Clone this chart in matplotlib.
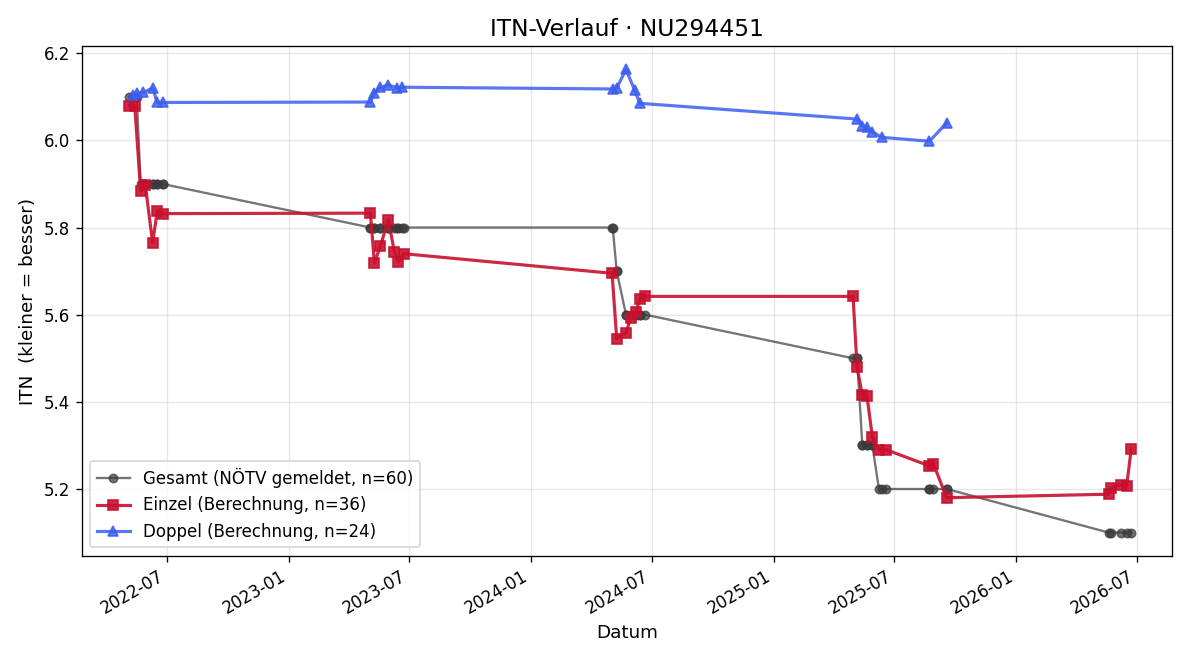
import matplotlib
matplotlib.use("Agg")
import matplotlib.pyplot as plt
import matplotlib.dates as mdates
import pandas as pd

gesamt_dates = [
    "2022-05-06", "2022-05-11", "2022-05-14", "2022-05-17", "2022-05-23", "2022-05-27", "2022-05-30",
    "2022-06-10", "2022-06-10", "2022-06-17", "2022-06-17", "2022-06-25", "2022-06-25",
    "2023-05-04", "2023-05-04", "2023-05-10", "2023-05-10", "2023-05-19", "2023-05-19", "2023-05-31",
    "2023-05-31", "2023-06-09", "2023-06-13", "2023-06-15", "2023-06-21", "2023-06-23",
    "2024-05-02", "2024-05-03", "2024-05-09", "2024-05-09", "2024-05-23", "2024-05-23", "2024-05-30",
    "2024-06-05", "2024-06-07", "2024-06-13", "2024-06-13", "2024-06-21",
    "2025-04-30", "2025-05-06", "2025-05-06", "2025-05-14", "2025-05-14", "2025-05-21", "2025-05-21",
    "2025-05-29", "2025-05-29", "2025-06-08", "2025-06-12", "2025-06-19", "2025-08-23", "2025-08-23",
    "2025-08-29", "2025-09-18", "2025-09-18",
    "2026-05-20", "2026-05-23", "2026-06-08", "2026-06-16", "2026-06-23",
]
gesamt_values = [
    6.1, 6.1, 6.1, 6.1, 5.9, 5.9, 5.9,
    5.9, 5.9, 5.9, 5.9, 5.9, 5.9,
    5.8, 5.8, 5.8, 5.8, 5.8, 5.8, 5.8,
    5.8, 5.8, 5.8, 5.8, 5.8, 5.8,
    5.8, 5.8, 5.7, 5.7, 5.6, 5.6, 5.6,
    5.6, 5.6, 5.6, 5.6, 5.6,
    5.5, 5.5, 5.5, 5.3, 5.3, 5.3, 5.3,
    5.3, 5.3, 5.2, 5.2, 5.2, 5.2, 5.2,
    5.2, 5.2, 5.2,
    5.1, 5.1, 5.1, 5.1, 5.1,
]

einzel_dates = [
    "2022-05-06", "2022-05-14", "2022-05-23", "2022-05-30", "2022-06-10", "2022-06-17", "2022-06-25",
    "2023-05-04", "2023-05-10", "2023-05-19", "2023-05-31", "2023-06-09", "2023-06-15", "2023-06-23",
    "2024-05-02", "2024-05-09", "2024-05-23", "2024-05-30", "2024-06-07", "2024-06-13", "2024-06-21",
    "2025-04-30", "2025-05-06", "2025-05-14", "2025-05-21", "2025-05-29", "2025-06-08", "2025-06-19",
    "2025-08-23", "2025-08-29", "2025-09-18",
    "2026-05-20", "2026-05-23", "2026-06-08", "2026-06-16", "2026-06-23",
]
einzel_values = [
    6.08, 6.08, 5.883, 5.897, 5.765, 5.838, 5.832,
    5.833, 5.719, 5.757, 5.818, 5.745, 5.721, 5.74,
    5.695, 5.545, 5.558, 5.593, 5.607, 5.636, 5.642,
    5.642, 5.48, 5.415, 5.413, 5.32, 5.29, 5.29,
    5.253, 5.258, 5.18,
    5.188, 5.203, 5.21, 5.206, 5.292,
]

doppel_dates = [
    "2022-05-11", "2022-05-17", "2022-05-27", "2022-06-10", "2022-06-17", "2022-06-25",
    "2023-05-04", "2023-05-10", "2023-05-19", "2023-05-31", "2023-06-13", "2023-06-21",
    "2024-05-03", "2024-05-09", "2024-05-23", "2024-06-05", "2024-06-13",
    "2025-05-06", "2025-05-14", "2025-05-21", "2025-05-29", "2025-06-12", "2025-08-23", "2025-09-18",
]
doppel_values = [
    6.105, 6.108, 6.11, 6.12, 6.087, 6.087,
    6.088, 6.109, 6.122, 6.127, 6.121, 6.122,
    6.118, 6.12, 6.163, 6.115, 6.085,
    6.049, 6.034, 6.03, 6.02, 6.007, 5.998, 6.04,
]

fig, ax = plt.subplots(figsize=(10, 5.5), dpi=120)
fig.subplots_adjust(left=0.068, right=0.977, top=0.930, bottom=0.158)

ax.plot(pd.to_datetime(gesamt_dates), gesamt_values, "-o", color="#3a3a3a", alpha=0.7,
        lw=1.4, ms=5, label=f"Gesamt (NÖTV gemeldet, n={len(gesamt_values)})", zorder=2)
ax.plot(pd.to_datetime(einzel_dates), einzel_values, "-s", color="#c8102e", alpha=0.9,
        lw=1.9, ms=6, label=f"Einzel (Berechnung, n={len(einzel_values)})", zorder=3)
ax.plot(pd.to_datetime(doppel_dates), doppel_values, "-^", color="#3d5ef0", alpha=0.85,
        lw=1.9, ms=6, label=f"Doppel (Berechnung, n={len(doppel_values)})", zorder=3)

ax.set_xlim(pd.Timestamp("2022-02-23"), pd.Timestamp("2026-08-24"))
ax.xaxis.set_major_locator(mdates.MonthLocator(bymonth=[1, 7]))
ax.xaxis.set_major_formatter(mdates.DateFormatter("%Y-%m"))
for lbl in ax.get_xticklabels():
    lbl.set_rotation(30)
    lbl.set_ha("right")

ax.set_title("ITN-Verlauf · NU294451", fontsize=14)
ax.set_xlabel("Datum", fontsize=11)
ax.set_ylabel("ITN  (kleiner = besser)", fontsize=11)
ax.grid(True, alpha=0.3)
ax.tick_params(labelsize=10)
ax.legend(loc="lower left", fontsize=10)

fig.savefig("out.png", dpi=120)
